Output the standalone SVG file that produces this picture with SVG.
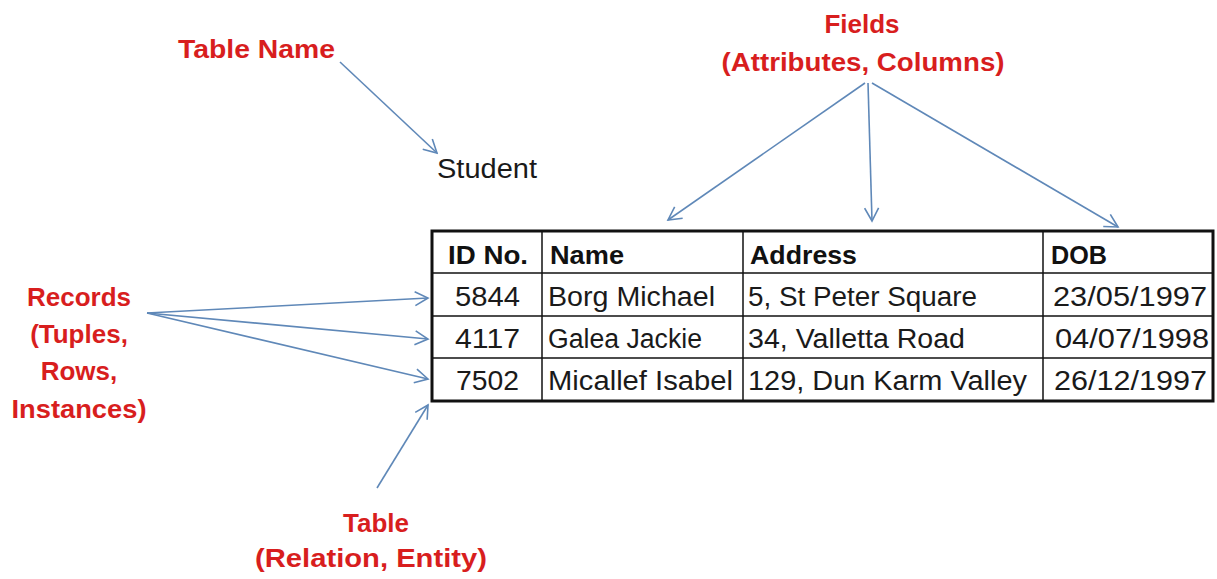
<svg xmlns="http://www.w3.org/2000/svg" width="1217" height="579" viewBox="0 0 1217 579">
<style>
.lbl{font-family:"Liberation Sans",Arial,sans-serif;font-weight:bold;font-size:26px;fill:#d81e1e}
.cell{font-family:"Liberation Sans",Arial,sans-serif;font-size:27px;fill:#1a1a1a}
.hdr{font-family:"Liberation Sans",Arial,sans-serif;font-size:26px;font-weight:bold;fill:#111}
.arr{stroke:#5f88b8;stroke-width:1.6;fill:none;marker-end:url(#ah)}
.grid{stroke:#111;stroke-width:1.5}
</style>
<defs>
<marker id="ah" markerUnits="userSpaceOnUse" markerWidth="16" markerHeight="16" viewBox="0 0 16 16" refX="14" refY="8" orient="auto">
<path d="M1,1 L14,8 L1,15" fill="none" stroke="#5f88b8" stroke-width="1.6"/>
</marker>
</defs>
<rect width="1217" height="579" fill="#ffffff"/>

<g id="connectors">
<line class="arr" x1="340" y1="62" x2="437" y2="153"/>
<line class="arr" x1="865" y1="83" x2="668" y2="220"/>
<line class="arr" x1="868" y1="83" x2="872" y2="221"/>
<line class="arr" x1="872" y1="83" x2="1118" y2="227"/>
<line class="arr" x1="147" y1="313" x2="428" y2="298"/>
<line class="arr" x1="147" y1="313" x2="428" y2="339"/>
<line class="arr" x1="147" y1="313" x2="428" y2="379"/>
<line class="arr" x1="377" y1="488" x2="428" y2="405"/>
</g>

<g id="table-name-label">
<text class="lbl" x="178" y="58" textLength="157" lengthAdjust="spacingAndGlyphs">Table Name</text>
</g>
<g id="fields-label">
<text class="lbl" x="862" y="33" text-anchor="middle">Fields</text>
<text class="lbl" x="863" y="71" text-anchor="middle" textLength="283" lengthAdjust="spacingAndGlyphs">(Attributes, Columns)</text>
</g>
<g id="records-label">
<text class="lbl" x="79" y="306" text-anchor="middle">Records</text>
<text class="lbl" x="79" y="343" text-anchor="middle">(Tuples,</text>
<text class="lbl" x="79" y="380" text-anchor="middle">Rows,</text>
<text class="lbl" x="79" y="418" text-anchor="middle" textLength="135" lengthAdjust="spacingAndGlyphs">Instances)</text>
</g>
<g id="table-label">
<text class="lbl" x="376" y="532" text-anchor="middle">Table</text>
<text class="lbl" x="371" y="567" text-anchor="middle" textLength="232" lengthAdjust="spacingAndGlyphs">(Relation, Entity)</text>
</g>
<g id="student">
<text class="cell" x="437" y="178" textLength="100" lengthAdjust="spacingAndGlyphs">Student</text>
</g>

<g id="student-table">
<rect x="432" y="231" width="781" height="170" fill="#fff" stroke="#111" stroke-width="3"/>
<line class="grid" x1="432" y1="273" x2="1213" y2="273"/>
<line class="grid" x1="432" y1="316" x2="1213" y2="316"/>
<line class="grid" x1="432" y1="358" x2="1213" y2="358"/>
<line class="grid" x1="542" y1="231" x2="542" y2="401"/>
<line class="grid" x1="743" y1="231" x2="743" y2="401"/>
<line class="grid" x1="1043" y1="231" x2="1043" y2="401"/>

<text class="hdr" x="448" y="264" textLength="80" lengthAdjust="spacingAndGlyphs">ID No.</text>
<text class="hdr" x="550" y="264" textLength="74" lengthAdjust="spacingAndGlyphs">Name</text>
<text class="hdr" x="750" y="264" textLength="107" lengthAdjust="spacingAndGlyphs">Address</text>
<text class="hdr" x="1051" y="264" textLength="56" lengthAdjust="spacingAndGlyphs">DOB</text>

<text class="cell" x="455" y="306" textLength="65" lengthAdjust="spacingAndGlyphs">5844</text>
<text class="cell" x="548" y="306" textLength="167" lengthAdjust="spacingAndGlyphs">Borg Michael</text>
<text class="cell" x="748" y="306" textLength="229" lengthAdjust="spacingAndGlyphs">5, St Peter Square</text>
<text class="cell" x="1053" y="306" textLength="154" lengthAdjust="spacingAndGlyphs">23/05/1997</text>

<text class="cell" x="455" y="348" textLength="65" lengthAdjust="spacingAndGlyphs">4117</text>
<text class="cell" x="548" y="348" textLength="154" lengthAdjust="spacingAndGlyphs">Galea Jackie</text>
<text class="cell" x="748" y="348" textLength="217" lengthAdjust="spacingAndGlyphs">34, Valletta Road</text>
<text class="cell" x="1055" y="348" textLength="154" lengthAdjust="spacingAndGlyphs">04/07/1998</text>

<text class="cell" x="456" y="390" textLength="63" lengthAdjust="spacingAndGlyphs">7502</text>
<text class="cell" x="548" y="390" textLength="185" lengthAdjust="spacingAndGlyphs">Micallef Isabel</text>
<text class="cell" x="748" y="390" textLength="279" lengthAdjust="spacingAndGlyphs">129, Dun Karm Valley</text>
<text class="cell" x="1054" y="390" textLength="153" lengthAdjust="spacingAndGlyphs">26/12/1997</text>
</g>
</svg>
